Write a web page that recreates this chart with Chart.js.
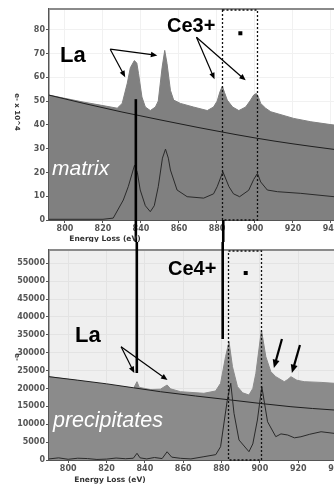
<!DOCTYPE html>
<html>
<head>
<meta charset="utf-8">
<script src="https://cdn.jsdelivr.net/npm/chart.js@4.4.1/dist/chart.umd.min.js"></script>
<style>
html,body{margin:0;padding:0;background:#fff;overflow:hidden;width:334px;height:484px}
.panel{position:absolute;left:0;width:350px;height:242px}
#top{top:0}
#bot{top:242px}
</style>
</head>
<body>
<div class="panel" id="top"><canvas id="c1" width="350" height="242"></canvas></div>
<div class="panel" id="bot"><canvas id="c2" width="350" height="242"></canvas></div>
<script>
// axis ticks
const xTicks = [800, 820, 840, 860, 880, 900, 920, 940];
const matrixYTicks = [0, 10, 20, 30, 40, 50, 60, 70, 80];
const precipYTicks = [0, 5000, 10000, 15000, 20000, 25000, 30000, 35000, 40000, 45000, 50000, 55000];

// matrix (top) : raw spectrum, background fit, background-subtracted
const matrixSpecE = [791.6, 809.5, 818.5, 827.5, 830.1, 832.8, 834.4, 836.5, 837.8, 838.7, 840.5, 842.3, 844.9, 847.6, 849.1, 851.1, 852.5, 853.7, 855.5, 857.2, 860.8, 867.6, 874.9, 878.2, 880.1, 881.6, 882.8, 884.0, 885.4, 888.2, 891.5, 895.1, 897.7, 899.3, 900.7, 901.9, 903.0, 905.6, 908.3, 920.4, 929.4, 941.6, 950];
const matrixSpecV = [52.5, 49.6, 48.3, 47.0, 49.0, 57.5, 64.0, 67.0, 66.0, 61.6, 51.7, 47.5, 46.0, 47.5, 50.0, 64.0, 71.3, 65.8, 54.5, 50.4, 49.0, 47.5, 46.0, 47.5, 50.0, 54.0, 56.2, 53.5, 50.4, 47.5, 46.0, 47.5, 50.4, 52.5, 53.2, 51.5, 49.0, 47.0, 45.5, 42.7, 41.3, 39.9, 39.4];
const matrixBgE = [791.6, 810, 830, 850, 870, 890, 910, 930, 950];
const matrixBgV = [52.5, 49.0, 45.4, 42.1, 38.9, 35.9, 33.2, 30.9, 28.8];
const matrixSubE = [791.6, 820, 825.4, 830.7, 833.3, 836.6, 838.1, 839.6, 842.3, 844.9, 847.0, 849.1, 851.3, 852.9, 854.4, 855.5, 859.0, 864.3, 873.0, 878.2, 880.1, 883.1, 886.3, 888.7, 891.9, 896.7, 899.3, 901.3, 903.0, 906.5, 911.8, 924.1, 941.6, 950];
const matrixSubV = [0.3, 0.3, 0.8, 8.4, 14.0, 23.0, 20.0, 12.6, 6.0, 3.5, 6.0, 14.0, 26.0, 29.8, 26.0, 21.0, 12.6, 9.8, 9.2, 11.0, 14.0, 20.3, 14.0, 11.0, 9.8, 12.5, 17.0, 19.6, 16.0, 12.6, 11.9, 11.2, 9.8, 9.6];

// precipitates (bottom)
const precipSpecE = [790, 806.2, 821.9, 832.4, 834.1, 835.9, 837.1, 842.9, 848.1, 851.6, 853.4, 858.6, 870.8, 876.9, 879.5, 882.1, 883.9, 885.7, 888.3, 891.0, 894.3, 896.3, 897.9, 900.8, 903.1, 905.7, 908.3, 910.5, 912.7, 914.5, 916.2, 919.3, 923.1, 931.9, 938.7, 947];
const precipSpecV = [23290, 22100, 20950, 20200, 20050, 21900, 20300, 19700, 19800, 20970, 19900, 19100, 18650, 19300, 21450, 28900, 33080, 26090, 20500, 18800, 18170, 20000, 24240, 36350, 28900, 24700, 23290, 22600, 21900, 22500, 23290, 22300, 21900, 21700, 21450, 21300];
const precipBgE = [790, 820, 848.1, 884.8, 916.2, 938.7, 947];
const precipBgV = [23290, 21300, 19100, 16780, 14900, 13980, 13700];
const precipSubE = [790, 795, 800, 805, 810, 815, 820, 825, 830, 834, 835.9, 837.5, 841, 845, 849, 851.6, 854, 858.6, 864, 870.8, 877, 879.5, 883.0, 884.8, 886.5, 889.1, 894.3, 896.3, 898.7, 901.0, 904.0, 908.3, 911, 914.5, 918, 921.4, 926, 931.9, 938.7, 947];
const precipSubV = [300, 600, 200, 500, 400, 150, 250, 550, 350, 500, 1870, 600, 300, 700, 400, 2300, 800, 470, 300, 930, 1500, 3720, 16780, 21450, 13050, 5600, 2320, 4500, 11180, 20500, 10700, 6520, 7300, 6990, 6200, 6500, 7200, 7900, 7450, 7300];

function pts(xs, ys) { return xs.map((x, i) => ({x: x, y: ys[i]})); }

function arrow(c, x1, y1, x2, y2, w, head) {
  const a = Math.atan2(y2 - y1, x2 - x1);
  c.save();
  c.strokeStyle = '#000'; c.fillStyle = '#000'; c.lineWidth = w;
  c.beginPath();
  c.moveTo(x1, y1);
  c.lineTo(x2 - Math.cos(a) * head * 0.8, y2 - Math.sin(a) * head * 0.8);
  c.stroke();
  c.beginPath();
  c.moveTo(x2, y2);
  c.lineTo(x2 - head * Math.cos(a - 0.4), y2 - head * Math.sin(a - 0.4));
  c.lineTo(x2 - head * Math.cos(a + 0.4), y2 - head * Math.sin(a + 0.4));
  c.closePath();
  c.fill();
  c.restore();
}

function panelPlugin(p) {
  return {
    id: 'panel',
    beforeDraw(chart) {
      const a = chart.chartArea, c = chart.ctx;
      c.save();
      c.fillStyle = p.plotBg;
      c.fillRect(a.left, a.top, a.right - a.left, a.bottom - a.top);
      c.restore();
    },
    afterDraw(chart) {
      const c = chart.ctx, a = chart.chartArea;
      const X = chart.scales.x, Y = chart.scales.y;
      const px = v => X.getPixelForValue(v), py = v => Y.getPixelForValue(v);
      c.save();
      // frame on top
      c.strokeStyle = '#8a8a8a'; c.lineWidth = 2;
      c.beginPath(); c.moveTo(a.left, a.top); c.lineTo(a.right, a.top); c.stroke();
      // dotted box
      c.strokeStyle = '#111'; c.lineWidth = 1.3; c.setLineDash([2, 2]);
      c.strokeRect(Math.round(px(p.box[0])) + 0.5, a.top + 1, Math.round(px(p.box[1]) - px(p.box[0])), a.bottom - a.top - 1);
      c.setLineDash([]);
      // little square
      c.fillStyle = '#000';
      c.fillRect(px(p.dot[0]) - 2, py(p.dot[1]) - 2, 4, 4);
      // connector lines between the panels
      c.lineWidth = 2.6; c.strokeStyle = '#000';
      p.links.forEach(l => {
        const y1 = l.from === 'top' ? 0 : py(l.from);
        const y2 = l.to === 'bottom' ? chart.height : py(l.to);
        c.beginPath(); c.moveTo(px(l.x), y1); c.lineTo(px(l.x), y2); c.stroke();
      });
      // arrows
      p.arrows.forEach(r => arrow(c, px(r[0]), py(r[1]), px(r[2]), py(r[3]), r[4], r[5]));
      // labels
      p.texts.forEach(t => {
        c.font = t.font; c.fillStyle = t.color || '#000';
        c.textAlign = t.align || 'left'; c.textBaseline = 'alphabetic';
        c.fillText(t.t, t.x, t.y);
      });
      // y title
      c.translate(p.yTitle.x, p.yTitle.y);
      c.rotate(Math.PI / 2);
      c.font = 'bold 7px "DejaVu Sans"'; c.fillStyle = '#333';
      c.textAlign = 'center'; c.textBaseline = 'middle';
      c.fillText(p.yTitle.t, 0, 0);
      c.restore();
    }
  };
}

function makeChart(id, d) {
  const tickFont = {family: 'DejaVu Sans', size: 8, weight: 'bold'};
  return new Chart(document.getElementById(id), {
    type: 'line',
    data: {
      datasets: [
        {data: pts(d.subE, d.subV), borderColor: '#2a2a2a', borderWidth: 1, pointRadius: 0, fill: false, order: 1},
        {data: pts(d.bgE, d.bgV), borderColor: '#1e1e1e', borderWidth: 1, pointRadius: 0, fill: false, order: 2, cubicInterpolationMode: 'monotone'},
        {data: pts(d.specE, d.specV), borderColor: d.fill, backgroundColor: d.fill, borderWidth: 1, pointRadius: 0, fill: 'origin', order: 3}
      ]
    },
    options: {
      responsive: false,
      animation: false,
      layout: {padding: {top: d.padTop, left: 0, right: 0, bottom: 0}},
      plugins: {legend: {display: false}, tooltip: {enabled: false}},
      scales: {
        x: {
          type: 'linear', min: d.xMin, max: d.xMax,
          afterBuildTicks: s => { s.ticks = xTicks.map(v => ({value: v})); },
          afterFit: s => { s.height = d.xH; },
          ticks: {font: tickFont, color: '#555', padding: 1, maxRotation: 0, callback: v => String(v)},
          grid: {color: d.grid, tickColor: '#555', tickLength: 3},
          border: {color: '#555', width: 1}
        },
        y: {
          min: 0, max: d.yMax,
          afterBuildTicks: s => { s.ticks = d.yTicks.map(v => ({value: v})); },
          afterFit: s => { s.width = 49; },
          ticks: {font: tickFont, color: '#555', padding: 1, callback: v => String(v)},
          grid: {color: d.grid, tickColor: '#555', tickLength: 3},
          border: {color: '#555', width: 1.5}
        }
      }
    },
    plugins: [panelPlugin(d.notes)]
  });
}

makeChart('c1', {
  specE: matrixSpecE, specV: matrixSpecV, bgE: matrixBgE, bgV: matrixBgV, subE: matrixSubE, subV: matrixSubV,
  fill: '#808080', grid: '#f1f1f1', padTop: 9, xH: 22, xMin: 791.6, xMax: 950, yMax: 88.7, yTicks: matrixYTicks,
  notes: {
    plotBg: '#ffffff',
    box: [882.8, 901.3],
    dot: [892.3, 78.5],
    links: [{x: 837.3, from: 50.8, to: 'bottom'}, {x: 883.3, from: 0, to: 'bottom'}],
    arrows: [
      [823.8, 71.8, 831.7, 60.0, 1.2, 7], [823.8, 71.8, 848.6, 69.2, 1.2, 7],
      [869.2, 76.8, 878.7, 59.2, 1.2, 7], [869.2, 76.8, 895.1, 58.7, 1.2, 7]
    ],
    texts: [
      {t: 'La', x: 60, y: 62, font: 'bold 22px "Liberation Sans"'},
      {t: 'Ce3+', x: 167, y: 32, font: 'bold 20px "Liberation Sans"'},
      {t: 'matrix', x: 52, y: 175, font: 'italic 21px "Liberation Sans"', color: '#fff'},
      {t: 'Energy Loss (eV)', x: 105, y: 241, font: 'bold 7.5px "DejaVu Sans"', color: '#333', align: 'center'}
    ],
    yTitle: {t: 'e- x 10^4', x: 17, y: 112}
  }
});

makeChart('c2', {
  specE: precipSpecE, specV: precipSpecV, bgE: precipBgE, bgV: precipBgV, subE: precipSubE, subV: precipSubV,
  fill: '#8b8b8b', grid: '#e3e3e3', padTop: 8, xH: 24, xMin: 790, xMax: 947, yMax: 58720, yTicks: precipYTicks,
  notes: {
    plotBg: '#efefef',
    box: [883.6, 901.0],
    dot: [892.6, 52285],
    links: [{x: 835.8, from: 'top', to: 24325}, {x: 880.6, from: 'top', to: 33830}],
    arrows: [
      [827.6, 31650, 834.5, 24325, 1.2, 7], [827.6, 31650, 851.8, 22370, 1.2, 7],
      [911.5, 33830, 907.3, 25720, 2.2, 9], [920.9, 32150, 916.7, 24325, 2.2, 9]
    ],
    texts: [
      {t: 'Ce4+', x: 168, y: 33, font: 'bold 20px "Liberation Sans"'},
      {t: 'La', x: 75, y: 100, font: 'bold 22px "Liberation Sans"'},
      {t: 'precipitates', x: 53, y: 185, font: 'italic 21.5px "Liberation Sans"', color: '#fff'},
      {t: 'Energy Loss (eV)', x: 110, y: 240, font: 'bold 7.5px "DejaVu Sans"', color: '#333', align: 'center'}
    ],
    yTitle: {t: 'e-', x: 17, y: 115}
  }
});
</script>
</body>
</html>
